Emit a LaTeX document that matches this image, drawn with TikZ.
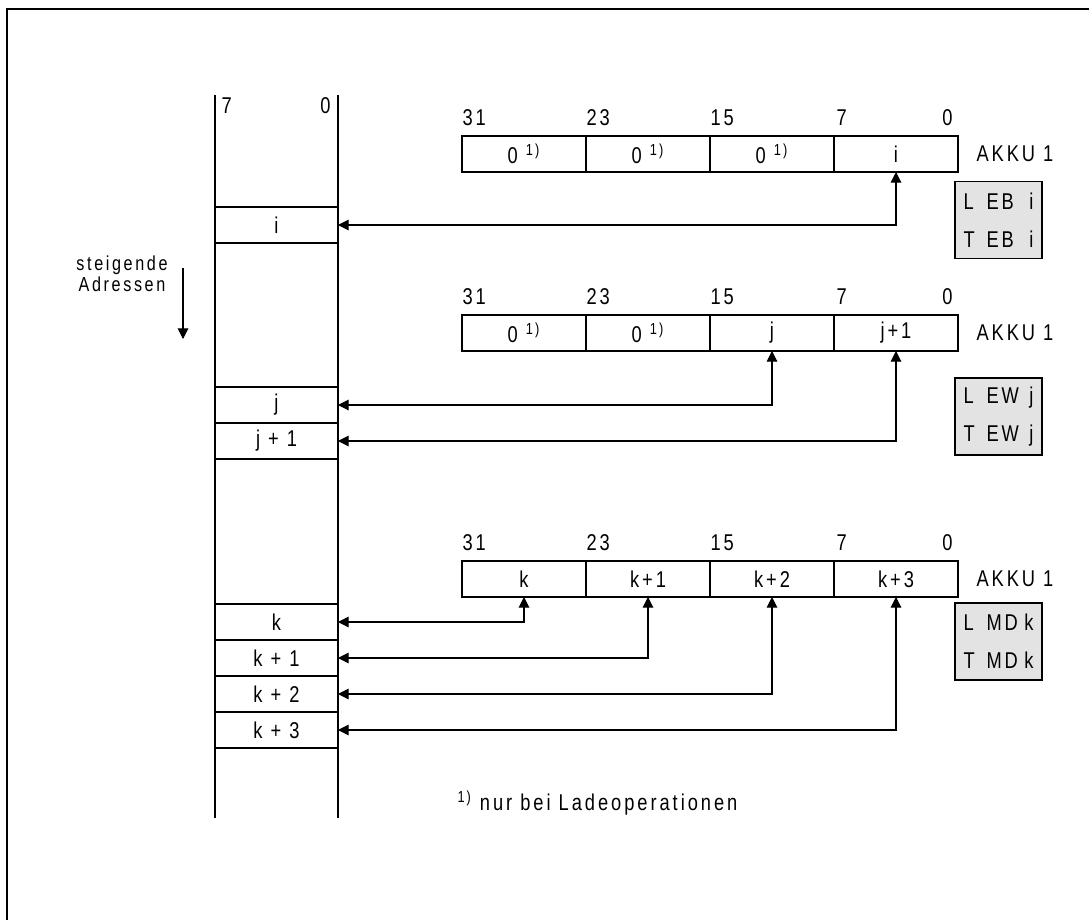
\documentclass[tikz,border=0pt]{standalone}
\usepackage{fontspec}
\setmainfont{Liberation Sans}[FakeStretch=0.8, LetterSpace=13]
\usetikzlibrary{arrows.meta}

\newcommand{\fnmark}{\textsuperscript{1)}}

\begin{document}
\begin{tikzpicture}[
  x=0.02cm, y=-0.02cm, line width=0.6pt,
  font=\fontsize{13}{15}\selectfont,
  reg/.style={draw, minimum width=2.48cm, minimum height=0.72cm, inner sep=0pt, outer sep=0pt},
  mem/.style={draw, minimum width=2.46cm, minimum height=0.72cm, inner sep=0pt, outer sep=0pt},
  bitlbl/.style={inner sep=0pt, anchor=south west, yshift=0.2cm},
  cmdbox/.style={draw, fill=gray!22, minimum width=1.74cm, minimum height=1.54cm,
    align=left, text width=1.4cm, inner sep=0pt, font=\fontsize{13}{21.5}\selectfont},
  link/.style={{Triangle[length=6pt,width=6pt]}-{Triangle[length=6pt,width=6pt]}},
]
\useasboundingbox (0,0) rectangle (1089,920);

% Rahmen (nur oben und links)
\draw[line width=1pt] (1089,9) -- (7,9) -- (7,920);

% Speicher: Spalte mit Bit 7 ... 0
\draw (215,95) -- (215,818);
\draw (338,95) -- (338,818);
\node[anchor=north west, inner sep=0pt] (m-b7) at (221,97) {7};
\node[anchor=north east, inner sep=0pt] (m-b0) at (331,97) {0};

% Speicherzellen
\node[mem] (m-i)  at (276.5,225) {i};
\node[mem] (m-j)  at (276.5,405) {j};
\node[mem] (m-j1) at (276.5,441) {j + 1};
\node[mem] (m-k)  at (276.5,622) {k};
\node[mem] (m-k1) at (276.5,658) {k + 1};
\node[mem] (m-k2) at (276.5,694) {k + 2};
\node[mem] (m-k3) at (276.5,730) {k + 3};

% steigende Adressen
\node[align=center, font=\fontsize{11.5}{10.3}\selectfont] (dir) at (122,274) {steigende\\Adressen};
\coordinate (dir-a) at (183,268);
\coordinate (dir-b) at (183,339);
\draw[-{Triangle[length=6pt,width=6pt]}] (dir-a) -- (dir-b);

% Register AKKU 1 (drei Faelle)
\foreach \c/\xx/\t in {1/524/{0 \fnmark}, 2/648/{0 \fnmark}, 3/772/{0 \fnmark}, 4/896/i}
  \node[reg] (r1-\c) at (\xx,154) {\t};
\foreach \c/\xx/\t in {1/524/{0 \fnmark}, 2/648/{0 \fnmark}, 3/772/j, 4/896/j+1}
  \node[reg] (r2-\c) at (\xx,333) {\t};
\foreach \c/\xx/\t in {1/524/k, 2/648/k+1, 3/772/k+2, 4/896/k+3}
  \node[reg] (r3-\c) at (\xx,579) {\t};

% Bitnummern und Bezeichnung
\foreach \r/\yy in {1/154, 2/333, 3/579} {
  \node[bitlbl] (b\r-31) at (r\r-1.north west) {31};
  \node[bitlbl] (b\r-23) at (r\r-2.north west) {23};
  \node[bitlbl] (b\r-15) at (r\r-3.north west) {15};
  \node[bitlbl, xshift=0.04cm] (b\r-7) at (r\r-4.north west) {7};
  \node[bitlbl, anchor=south east, xshift=-0.1cm] (b\r-0) at (r\r-4.north east) {0};
  \node[anchor=west, inner sep=0pt] (ak\r) at (976,\yy) {AKKU 1};
}

% Befehle
\node[cmdbox] (cmd1) at (998.5,220)   {\makebox[0.46cm][l]{L}EB\hfill i\\\makebox[0.46cm][l]{T}EB\hfill i};
\node[cmdbox] (cmd2) at (998.5,416.5) {\makebox[0.46cm][l]{L}EW\hfill j\\\makebox[0.46cm][l]{T}EW\hfill j};
\node[cmdbox] (cmd3) at (998.5,641.5) {\makebox[0.46cm][l]{L}MD\hfill k\\\makebox[0.46cm][l]{T}MD\hfill k};

% Verbindungen Speicher <-> AKKU
\draw[link] (m-i.east)  -| (r1-4.south);
\draw[link] (m-j.east)  -| (r2-3.south);
\draw[link] (m-j1.east) -| (r2-4.south);
\draw[link] (m-k.east)  -| (r3-1.south);
\draw[link] (m-k1.east) -| (r3-2.south);
\draw[link] (m-k2.east) -| (r3-3.south);
\draw[link] (m-k3.east) -| (r3-4.south);

% Fussnote
\node[anchor=west, inner sep=0pt] (fn) at (457,803) {\fnmark\ nur bei Ladeoperationen};

\end{tikzpicture}
\end{document}
